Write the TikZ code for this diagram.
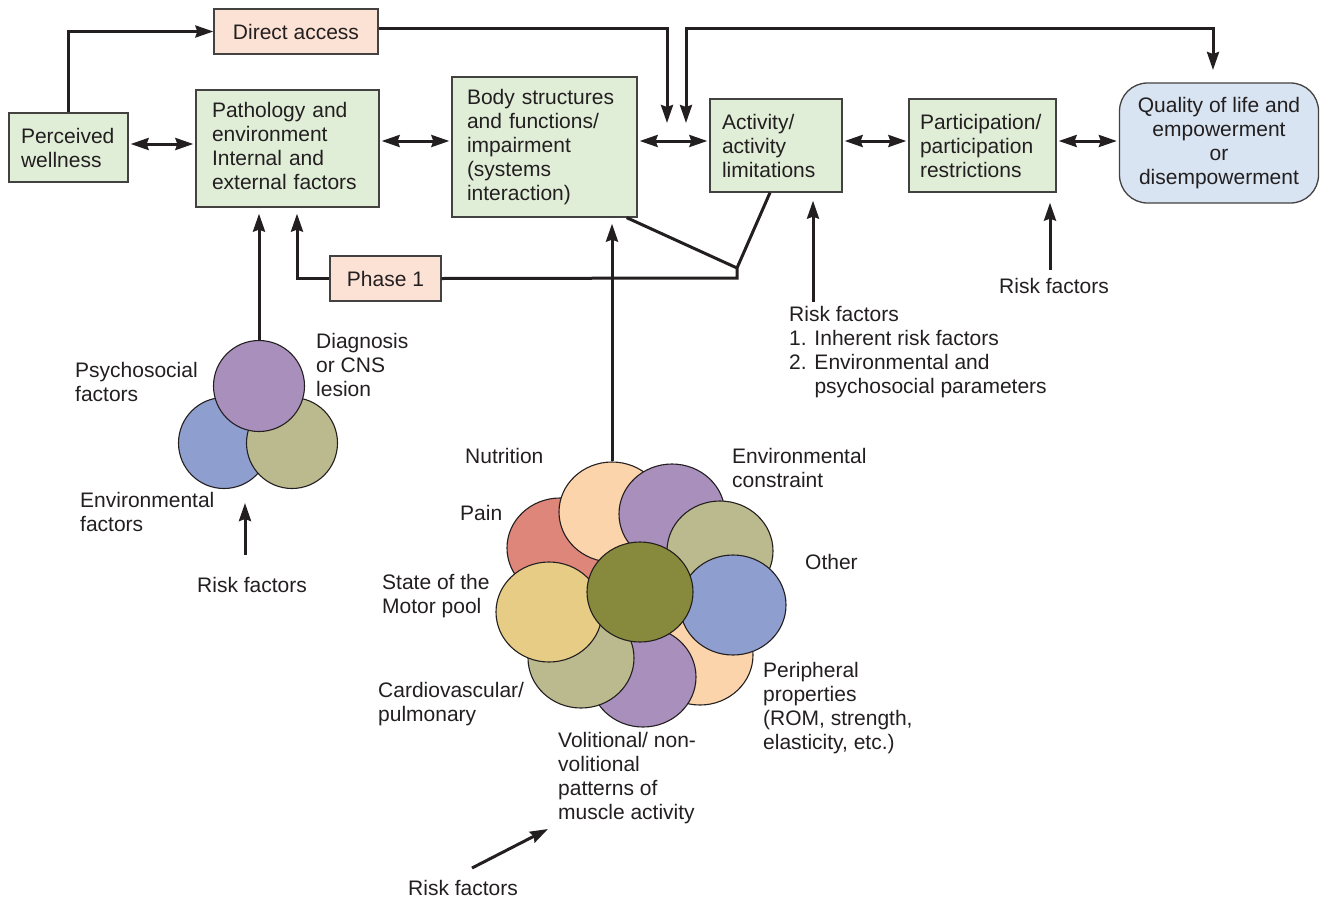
\documentclass[tikz,border=0pt]{standalone}
\usepackage{fontspec}
\setmainfont{Liberation Sans}
\usetikzlibrary{arrows.meta,shapes.geometric,calc}

\definecolor{ink}{RGB}{35,31,32}
\definecolor{boxgreen}{RGB}{224,238,216}
\definecolor{boxpeach}{RGB}{251,226,212}
\definecolor{boxblue}{RGB}{216,228,242}
\definecolor{cpurple}{RGB}{169,143,187}
\definecolor{cblue}{RGB}{142,158,207}
\definecolor{colive}{RGB}{187,186,142}
\definecolor{cpeach}{RGB}{252,212,172}
\definecolor{cred}{RGB}{222,134,121}
\definecolor{cyellow}{RGB}{230,204,132}
\definecolor{cdark}{RGB}{135,138,60}

\tikzset{
  every node/.style={font=\fontsize{21}{24}\selectfont, text=ink},
  box/.style={draw=ink!85, line width=1.3pt, fill=boxgreen, align=left, inner ysep=0pt},
  pbox/.style={draw=ink!85, line width=1.3pt, fill=boxpeach, align=center, inner sep=0pt},
  qbox/.style={draw=ink!85, line width=1.3pt, fill=boxblue, align=center, inner sep=0pt, rounded corners=28pt},
  petal/.style={ellipse, draw=ink, line width=1.1pt, inner sep=0pt, minimum width=106pt, minimum height=100pt},
  disc/.style={circle, draw=ink, line width=1.1pt, inner sep=0pt, minimum size=91pt},
  % labels are placed by the baseline of their last line
  lbl/.style={anchor=base west, align=left, inner sep=0pt},
  conn/.style={draw=ink, line width=3pt},
  arr/.style={conn, -{Stealth[length=18pt,width=12pt,inset=2pt]}},
  darr/.style={conn, {Stealth[length=18pt,width=12pt,inset=2pt]}-{Stealth[length=18pt,width=12pt,inset=2pt]}, shorten <=2pt, shorten >=2pt}
}

\begin{document}
\begin{tikzpicture}[x=1pt,y=-1pt]
\useasboundingbox (0,0) rectangle (1320,897);

% ---- main chain of boxes ----
\node[box, minimum height=69pt, text width=95pt, inner xsep=12pt] (pw) at (68.5,147.5) {Perceived\\wellness};
\node[pbox, minimum width=164pt, minimum height=45pt] (da) at (296,31.5) {Direct access};
\node[box, minimum height=117pt, text width=151pt, inner xsep=16pt] (patho) at (287.5,148.5) {Pathology and\\environment\\Internal and\\external factors\rule[-6pt]{0pt}{6pt}};
\node[box, minimum height=140pt, text width=155pt, inner xsep=15pt] (body) at (544.5,147) {Body structures\\and functions/\\impairment\\(systems\\interaction)};
\node[box, minimum height=93pt, text width=108pt, inner xsep=12pt] (act) at (776,145.5) {Activity/\\activity\\limitations};
\node[box, minimum height=93pt, text width=125pt, inner xsep=11pt] (part) at (982.5,145.5) {Participation/\\participation\\restrictions};
\node[qbox, minimum width=199pt, minimum height=120pt] (qol) at (1219,143) {Quality of life and\\empowerment\\or\\disempowerment};
\node[pbox, minimum width=111pt, minimum height=45pt] (ph1) at (385.5,278.5) {Phase 1};

% ---- three-factor cluster ----
\node[disc, fill=cblue] (cenv) at (224,443) {};
\node[disc, fill=colive] (cdiag) at (292,443) {};
\node[disc, fill=cpurple] (cpsy) at (259,386) {};

% ---- multi-factor cluster ----
\node[petal, fill=cpeach] (pperiph) at (700,655) {};
\node[petal, fill=cpurple] (pvol) at (643,677) {};
\node[petal, fill=colive] (pcardio) at (581,658) {};
\node[petal, fill=cred] (ppain) at (560,548) {};
\node[petal, fill=cyellow] (pmotor) at (549,612) {};
\node[petal, fill=cpeach] (pnut) at (612,512) {};
\node[petal, fill=cpurple] (pconst) at (672,514) {};
\node[petal, fill=colive] (pother) at (720,551) {};
\node[petal, fill=cblue] (pperiph2) at (733,605) {};
\node[petal, fill=cdark] (pcore) at (640,592) {};

% ---- labels ----
\node[lbl] (lpsy) at (75,401) {Psychosocial\\factors};
\node[lbl] (ldiag) at (316,396) {Diagnosis\\or CNS\\lesion};
\node[lbl] (lenvf) at (80,531) {Environmental\\factors};
\node[lbl] (rf1) at (197,592) {Risk factors};
\node[lbl] (lnut) at (465,463) {Nutrition};
\node[lbl] (lconst) at (732,487) {Environmental\\constraint};
\node[lbl] (lpain) at (460,520) {Pain};
\node[lbl] (lother) at (805,569) {Other};
\node[lbl] (lmotor) at (382,613) {State of the\\Motor pool};
\node[lbl] (lperiph) at (763,749) {Peripheral\\properties\\(ROM, strength,\\elasticity, etc.)};
\node[lbl] (lcardio) at (378,721) {Cardiovascular/\\pulmonary};
\node[lbl] (lvol) at (558,819) {Volitional/ non-\\volitional\\patterns of\\muscle activity};
\node[lbl] (rf4) at (408,895) {Risk factors};
\node[lbl] (rf2) at (789,393) {Risk factors\\1. Inherent risk factors\\2. Environmental and\\\hphantom{2. }psychosocial parameters};
\node[lbl] (rf3) at (999,293) {Risk factors};

% ---- free connector ends ----
\coordinate (dtip1) at (667,123);
\coordinate (dtip2) at (686,123);
\coordinate (dtop2) at (686,28);
\coordinate (qtip) at (1213,70);
\coordinate (jn) at (737,268);
\coordinate (jb) at (737,278);
\coordinate (r1s) at (245,555);
\coordinate (r1e) at (245,503);
\coordinate (r2s) at (813,302);
\coordinate (r3s) at (1050,270);
\coordinate (r4s) at (472,868);
\coordinate (r4e) at (548,829);

% ---- connectors ----
\draw[arr] (pw.north) |- (da.west);
\draw[arr] ([yshift=3.5pt]da.east) -| (dtip1);
\draw[conn, {Stealth[length=18pt,width=12pt,inset=2pt]}-{Stealth[length=18pt,width=12pt,inset=2pt]}] (dtip2) -- (dtop2) -| (qtip);

\draw[darr] ([yshift=3.5pt]pw.east) -- ([yshift=3.5pt]pw.east -| patho.west);
\draw[darr] (patho.east |- 0,141) -- (body.west |- 0,141);
\draw[darr] (body.east |- 0,141) -- (act.west |- 0,141);
\draw[darr] (act.east |- 0,141) -- (part.west |- 0,141);
\draw[darr] (part.east |- 0,141) -- (qol.west |- 0,141);

\draw[conn, line join=miter] ([xshift=-11pt]body.south east) -- (jn);
\draw[conn, line join=miter] ([xshift=-6pt]act.south) -- (jn) -- (jb) -- (ph1.east);
\draw[arr, shorten >=6pt] (ph1.west) -| (patho.south -| 297,0);

\draw[arr, shorten >=6pt] (cpsy.north) -- (cpsy.north |- patho.south);
\draw[arr, shorten >=6pt] (pnut.north) -- (pnut.north |- body.south);
\draw[arr, shorten >=8pt] (r2s) -- (r2s |- act.south);
\draw[arr, shorten >=10pt] (r3s) -- (r3s |- part.south);
\draw[arr] (r1s) -- (r1e);
\draw[arr] (r4s) -- (r4e);
\end{tikzpicture}
\end{document}
